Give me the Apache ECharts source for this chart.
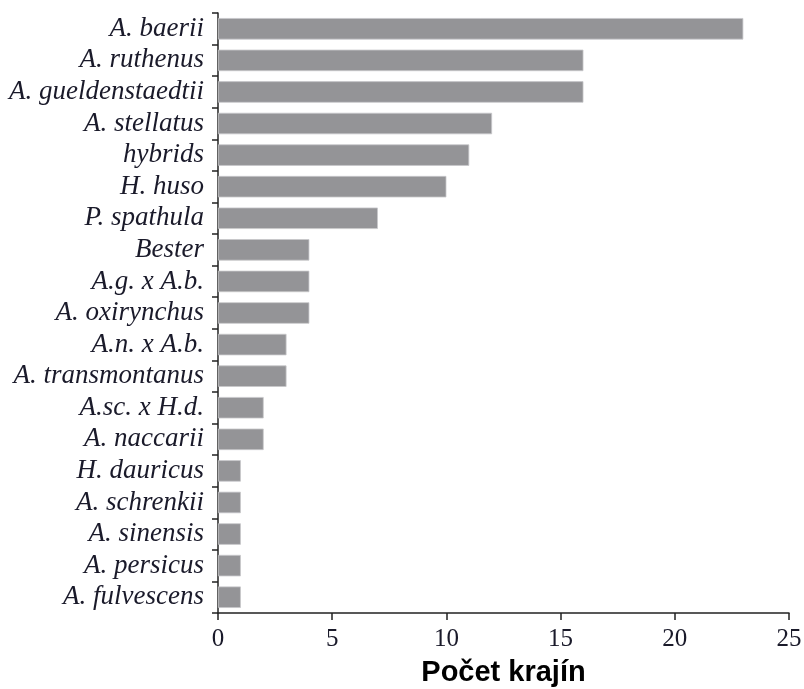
<!DOCTYPE html>
<html><head><meta charset="utf-8">
<script src="https://cdn.jsdelivr.net/npm/echarts@6/dist/echarts.min.js"></script>
<style>html,body{margin:0;padding:0;background:#fff}#c{width:804px;height:689px}</style>
</head><body><div id="c"></div>
<script>
const categories = ["A. baerii","A. ruthenus","A. gueldenstaedtii","A. stellatus","hybrids","H. huso","P. spathula","Bester","A.g. x A.b.","A. oxirynchus","A.n. x A.b.","A. transmontanus","A.sc. x H.d.","A. naccarii","H. dauricus","A. schrenkii","A. sinensis","A. persicus","A. fulvescens"];
const values = [23,16,16,12,11,10,7,4,4,4,3,3,2,2,1,1,1,1,1];
const xTicks = [0,5,10,15,20,25];
const chart = echarts.init(document.getElementById('c'));
chart.setOption({
  animation:false,
  grid:{left:218,right:15,top:13,bottom:76,containLabel:false,outerBoundsMode:'none'},
  xAxis:{type:'value',min:0,max:25,interval:5,
    name:'Počet krajín',nameLocation:'middle',nameGap:45,
    nameTextStyle:{fontFamily:'Liberation Sans',fontWeight:'bold',fontSize:29,color:'#000',verticalAlign:'top'},
    axisLine:{show:true,lineStyle:{color:'#222',width:1.5}},
    axisTick:{show:true,length:7,lineStyle:{color:'#222',width:1.5}},
    axisLabel:{fontFamily:'Liberation Serif',fontSize:25,color:'#1a1a2a',margin:14,
      formatter:v=>xTicks.includes(v)?String(v):''},
    splitLine:{show:false}},
  yAxis:{type:'category',data:categories,inverse:true,
    axisLine:{show:true,lineStyle:{color:'#222',width:1.5}},
    axisTick:{show:true,interval:0,length:6,lineStyle:{color:'#222',width:1.5}},
    axisLabel:{interval:0,fontFamily:'Liberation Serif',fontStyle:'italic',fontSize:27,color:'#1a1a2a',margin:14}},
  series:[{type:'bar',data:values,barCategoryGap:'32%',
    itemStyle:{color:'#949497',borderColor:'#c8c8ca',borderWidth:0.8}}]
});
</script></body></html>
